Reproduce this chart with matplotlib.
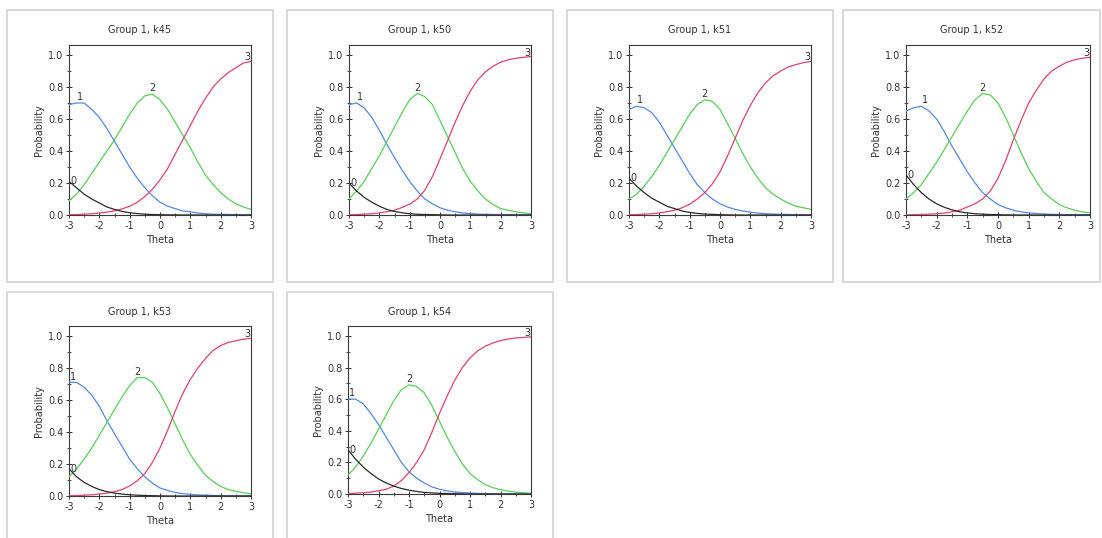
import matplotlib.pyplot as plt
from matplotlib.patches import Rectangle
from matplotlib.ticker import MultipleLocator

# theta grid the curves were read at
theta = [-3.0, -2.75, -2.5, -2.25, -2.0, -1.75, -1.5, -1.25, -1.0, -0.75, -0.5, -0.25,
         0.0, 0.25, 0.5, 0.75, 1.0, 1.25, 1.5, 1.75, 2.0, 2.25, 2.5, 2.75, 3.0]

# Group 1, k45
k45_cat0 = [0.21, 0.17, 0.13, 0.10, 0.075, 0.05, 0.035, 0.022, 0.014, 0.009, 0.005, 0.003,
            0.002, 0.001, 0.001, 0.0, 0.0, 0.0, 0.0, 0.0, 0.0, 0.0, 0.0, 0.0, 0.0]
k45_cat1 = [0.69, 0.70, 0.70, 0.66, 0.61, 0.54, 0.46, 0.38, 0.30, 0.23, 0.17, 0.12,
            0.08, 0.055, 0.04, 0.025, 0.02, 0.012, 0.008, 0.005, 0.004, 0.003, 0.002, 0.001, 0.001]
k45_cat2 = [0.09, 0.13, 0.19, 0.26, 0.33, 0.40, 0.47, 0.55, 0.63, 0.70, 0.745, 0.755,
            0.72, 0.66, 0.58, 0.50, 0.42, 0.33, 0.25, 0.19, 0.14, 0.10, 0.07, 0.05, 0.035]
k45_cat3 = [0.002, 0.003, 0.005, 0.008, 0.012, 0.018, 0.026, 0.038, 0.055, 0.08, 0.115, 0.16,
            0.22, 0.29, 0.38, 0.47, 0.56, 0.65, 0.73, 0.80, 0.85, 0.89, 0.92, 0.95, 0.96]

# Group 1, k50
k50_cat0 = [0.20, 0.15, 0.11, 0.08, 0.055, 0.035, 0.022, 0.014, 0.008, 0.005, 0.003, 0.002,
            0.001, 0.0, 0.0, 0.0, 0.0, 0.0, 0.0, 0.0, 0.0, 0.0, 0.0, 0.0, 0.0]
k50_cat1 = [0.69, 0.70, 0.67, 0.61, 0.53, 0.44, 0.36, 0.28, 0.21, 0.15, 0.10, 0.07,
            0.045, 0.03, 0.02, 0.013, 0.009, 0.006, 0.004, 0.003, 0.002, 0.001, 0.001, 0.001, 0.001]
k50_cat2 = [0.10, 0.15, 0.21, 0.29, 0.37, 0.46, 0.55, 0.64, 0.72, 0.76, 0.74, 0.69,
            0.59, 0.49, 0.39, 0.29, 0.21, 0.15, 0.10, 0.065, 0.04, 0.03, 0.02, 0.013, 0.009]
k50_cat3 = [0.002, 0.003, 0.005, 0.008, 0.013, 0.02, 0.03, 0.047, 0.068, 0.10, 0.155, 0.24,
            0.35, 0.465, 0.58, 0.685, 0.775, 0.845, 0.895, 0.93, 0.955, 0.97, 0.98, 0.985, 0.99]

# Group 1, k51
k51_cat0 = [0.23, 0.18, 0.14, 0.105, 0.08, 0.055, 0.04, 0.025, 0.016, 0.01, 0.006, 0.004,
            0.002, 0.001, 0.0, 0.0, 0.0, 0.0, 0.0, 0.0, 0.0, 0.0, 0.0, 0.0, 0.0]
k51_cat1 = [0.66, 0.68, 0.67, 0.64, 0.58, 0.50, 0.42, 0.34, 0.26, 0.19, 0.14, 0.10,
            0.07, 0.05, 0.035, 0.025, 0.018, 0.012, 0.008, 0.006, 0.004, 0.003, 0.002, 0.001, 0.001]
k51_cat2 = [0.10, 0.13, 0.18, 0.24, 0.31, 0.39, 0.47, 0.55, 0.63, 0.69, 0.72, 0.71,
            0.66, 0.57, 0.48, 0.385, 0.30, 0.23, 0.17, 0.13, 0.10, 0.075, 0.055, 0.045, 0.035]
k51_cat3 = [0.002, 0.003, 0.005, 0.008, 0.013, 0.02, 0.03, 0.045, 0.068, 0.10, 0.14, 0.195,
            0.27, 0.37, 0.48, 0.59, 0.685, 0.765, 0.825, 0.87, 0.90, 0.925, 0.94, 0.952, 0.96]

# Group 1, k52
k52_cat0 = [0.25, 0.19, 0.14, 0.10, 0.07, 0.048, 0.032, 0.02, 0.013, 0.008, 0.005, 0.003,
            0.002, 0.001, 0.0, 0.0, 0.0, 0.0, 0.0, 0.0, 0.0, 0.0, 0.0, 0.0, 0.0]
k52_cat1 = [0.65, 0.67, 0.68, 0.65, 0.60, 0.52, 0.43, 0.35, 0.27, 0.20, 0.14, 0.10,
            0.065, 0.045, 0.03, 0.02, 0.013, 0.009, 0.006, 0.004, 0.003, 0.002, 0.001, 0.001, 0.001]
k52_cat2 = [0.10, 0.14, 0.19, 0.26, 0.33, 0.41, 0.49, 0.57, 0.65, 0.72, 0.76, 0.75,
            0.70, 0.61, 0.50, 0.39, 0.29, 0.21, 0.14, 0.10, 0.065, 0.045, 0.03, 0.02, 0.013]
k52_cat3 = [0.001, 0.002, 0.003, 0.005, 0.008, 0.012, 0.02, 0.03, 0.05, 0.07, 0.10, 0.15,
            0.23, 0.34, 0.47, 0.59, 0.70, 0.78, 0.85, 0.90, 0.93, 0.955, 0.97, 0.98, 0.985]

# Group 1, k53
k53_cat0 = [0.17, 0.12, 0.085, 0.06, 0.04, 0.027, 0.018, 0.012, 0.008, 0.005, 0.003, 0.002,
            0.001, 0.0, 0.0, 0.0, 0.0, 0.0, 0.0, 0.0, 0.0, 0.0, 0.0, 0.0, 0.0]
k53_cat1 = [0.71, 0.71, 0.68, 0.63, 0.56, 0.47, 0.39, 0.31, 0.23, 0.17, 0.12, 0.08,
            0.05, 0.035, 0.022, 0.015, 0.01, 0.007, 0.005, 0.003, 0.002, 0.001, 0.001, 0.001, 0.001]
k53_cat2 = [0.12, 0.17, 0.23, 0.30, 0.38, 0.46, 0.54, 0.62, 0.69, 0.74, 0.74, 0.71,
            0.64, 0.55, 0.45, 0.35, 0.26, 0.19, 0.13, 0.09, 0.06, 0.04, 0.03, 0.02, 0.013]
k53_cat3 = [0.002, 0.003, 0.005, 0.008, 0.012, 0.018, 0.027, 0.04, 0.063, 0.095, 0.14, 0.21,
            0.30, 0.41, 0.53, 0.64, 0.73, 0.80, 0.86, 0.91, 0.94, 0.96, 0.97, 0.98, 0.985]

# Group 1, k54
k54_cat0 = [0.28, 0.22, 0.17, 0.13, 0.095, 0.07, 0.05, 0.035, 0.024, 0.016, 0.01, 0.007,
            0.004, 0.003, 0.002, 0.001, 0.0, 0.0, 0.0, 0.0, 0.0, 0.0, 0.0, 0.0, 0.0]
k54_cat1 = [0.60, 0.60, 0.57, 0.51, 0.44, 0.36, 0.28, 0.20, 0.14, 0.10, 0.07, 0.045,
            0.03, 0.02, 0.013, 0.009, 0.006, 0.004, 0.003, 0.002, 0.001, 0.001, 0.001, 0.001, 0.001]
k54_cat2 = [0.12, 0.17, 0.24, 0.32, 0.41, 0.50, 0.59, 0.66, 0.69, 0.68, 0.64, 0.56,
            0.46, 0.36, 0.27, 0.19, 0.13, 0.09, 0.06, 0.04, 0.027, 0.018, 0.012, 0.008, 0.005]
k54_cat3 = [0.003, 0.005, 0.008, 0.012, 0.02, 0.03, 0.05, 0.085, 0.135, 0.20, 0.28, 0.39,
            0.51, 0.62, 0.72, 0.80, 0.86, 0.905, 0.935, 0.955, 0.97, 0.98, 0.987, 0.99, 0.994]

titles = ['Group 1, k45', 'Group 1, k50', 'Group 1, k51',
          'Group 1, k52', 'Group 1, k53', 'Group 1, k54']
curves = [
    [k45_cat0, k45_cat1, k45_cat2, k45_cat3],
    [k50_cat0, k50_cat1, k50_cat2, k50_cat3],
    [k51_cat0, k51_cat1, k51_cat2, k51_cat3],
    [k52_cat0, k52_cat1, k52_cat2, k52_cat3],
    [k53_cat0, k53_cat1, k53_cat2, k53_cat3],
    [k54_cat0, k54_cat1, k54_cat2, k54_cat3],
]
cat_labels = ['0', '1', '2', '3']
curve_colors = ['#2a2a2a', '#5289e6', '#55d155', '#e3406f']

W, H = 1102, 538
fig = plt.figure(figsize=(W / 100, H / 100), dpi=100)

# pixel layout: panel box (x0, y0, x1, y1) and axes (left, top, right, bottom)
boxes = [(7, 10, 273, 282), (287, 10, 553, 282), (567, 10, 833, 282),
         (843, 10, 1100, 282), (7, 292, 273, 545), (287, 292, 553, 545)]
axes_px = [(69, 45, 251, 215), (349, 45, 531, 215), (629, 45, 811, 215),
           (906, 45, 1090, 215), (69, 326, 251, 496), (348, 326, 531, 494)]

for i in range(6):
    bx0, by0, bx1, by1 = boxes[i]
    fig.add_artist(Rectangle((bx0 / W, 1 - by1 / H), (bx1 - bx0) / W, (by1 - by0) / H,
                             transform=fig.transFigure, facecolor='white',
                             edgecolor='#d2d2d2', lw=1.2, zorder=0))
    l, t, r, b = axes_px[i]
    ax = fig.add_axes([l / W, 1 - b / H, (r - l) / W, (b - t) / H])

    for k in range(4):
        ax.plot(theta, curves[i][k], color=curve_colors[k], lw=0.9, zorder=3 if k else 4)

    c0, c1, c2, c3 = curves[i]
    txt = dict(fontsize=7, color='#333333', ha='center', zorder=5)
    ax.text(theta[0] + 0.13, c0[0], cat_labels[0], va='center', **txt)
    j1 = c1.index(max(c1))
    ax.text(theta[j1] + 0.12, c1[j1] + 0.005, cat_labels[1], va='bottom', **txt)
    j2 = c2.index(max(c2))
    ax.text(theta[j2], c2[j2] + 0.005, cat_labels[2], va='bottom', **txt)
    ax.text(theta[-1] - 0.12, c3[-1] + 0.025, cat_labels[3], va='center', **txt)

    ax.set_xlim(-3, 3)
    ax.set_ylim(0, 1.0625)
    ax.set_xticks([-3, -2, -1, 0, 1, 2, 3])
    ax.set_xticklabels(['-3', '-2', '-1', '0', '1', '2', '3'])
    ax.xaxis.set_minor_locator(MultipleLocator(0.5))
    ax.set_yticks([0.0, 0.2, 0.4, 0.6, 0.8, 1.0])
    ax.set_yticklabels(['0.0', '0.2', '0.4', '0.6', '0.8', '1.0'])
    ax.yaxis.set_minor_locator(MultipleLocator(0.1))
    ax.tick_params(which='major', direction='inout', length=4, width=0.7,
                   labelsize=7, labelcolor='#333333', color='#333333', pad=2)
    ax.tick_params(which='minor', direction='inout', length=3, width=0.6, color='#333333')
    for sp in ax.spines.values():
        sp.set_color('#3a3a3a')
        sp.set_linewidth(0.8)
    ax.set_xlabel('Theta', fontsize=7, color='#333333', labelpad=3)
    ax.set_ylabel('Probability', fontsize=7, color='#333333', labelpad=3)

    fig.text((bx0 + bx1) / 2 / W, 1 - 30 / H - (by0 - 10) / H, titles[i],
             fontsize=7, color='#333333', ha='center', va='center')

fig.savefig('out.png', dpi=100)
